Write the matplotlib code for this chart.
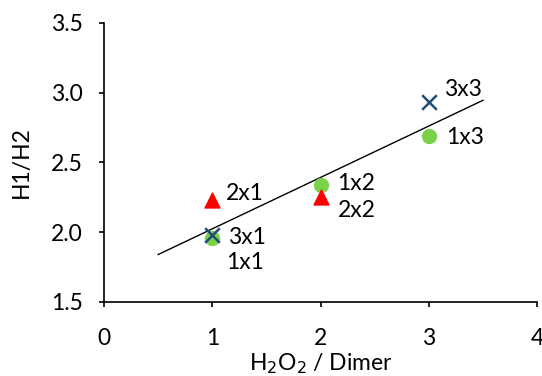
import numpy as np
import matplotlib.pyplot as plt

plt.rcParams["font.family"] = ["Lato", "DejaVu Sans"]

# H2O2 / dimer ratio and H1/H2 values, by series
green_x = [1, 2, 3]
green_y = [1.96, 2.34, 2.69]
green_lab = ["1x1", "1x2", "1x3"]

red_x = [1, 2]
red_y = [2.23, 2.25]
red_lab = ["2x1", "2x2"]

blue_x = [1, 3]
blue_y = [1.98, 2.93]
blue_lab = ["3x1", "3x3"]

# label offsets in pixels, per point
green_off = [(14, -25), (17, 1), (17, -2)]
red_off = [(14, 7), (17, -13)]
blue_off = [(16, -3), (15, 13)]

FS = 16.5

fig = plt.figure(figsize=(5.42, 3.76), dpi=100)
ax = fig.add_axes([0.192, 0.197, 0.799, 0.742])

# linear trend over all points
all_x = np.array(green_x + red_x + blue_x, dtype=float)
all_y = np.array(green_y + red_y + blue_y)
slope, icpt = np.polyfit(all_x, all_y, 1)
xs = np.array([0.5, 3.5])
ax.plot(xs, slope * xs + icpt, color="black", lw=1.0, zorder=1)

ax.scatter(green_x, green_y, s=100, color="#7BD24A", marker="o", zorder=2)
ax.scatter(red_x, red_y, s=115, color="#FF0000", marker="^", zorder=2)
ax.scatter(blue_x, blue_y, s=110, color="#1F4E79", marker="x", linewidths=1.8, zorder=3)

for xx, yy, labs, offs in [
    (green_x, green_y, green_lab, green_off),
    (red_x, red_y, red_lab, red_off),
    (blue_x, blue_y, blue_lab, blue_off),
]:
    for x, y, t, o in zip(xx, yy, labs, offs):
        ax.annotate(t, (x, y), xytext=o, textcoords="offset pixels",
                    ha="left", va="center", fontsize=FS)

ax.set_xlim(0, 4)
ax.set_ylim(1.5, 3.5)
ax.set_xticks([0, 1, 2, 3, 4])
ax.set_yticks([1.5, 2.0, 2.5, 3.0, 3.5])
ax.set_yticklabels(["1.5", "2.0", "2.5", "3.0", "3.5"])
ax.tick_params(labelsize=FS, length=3.5, width=1.2, color="black")
ax.tick_params(axis="x", pad=15)
ax.tick_params(axis="y", pad=12)
for s in ["top", "right"]:
    ax.spines[s].set_visible(False)
for s in ["left", "bottom"]:
    ax.spines[s].set_linewidth(1.2)

ax.set_xlabel(r"H$_2$O$_2$ / Dimer", fontsize=FS)
ax.set_ylabel("H1/H2", fontsize=FS)
ax.xaxis.set_label_coords(0.5, -0.178)
ax.yaxis.set_label_coords(-0.166, 0.5)

plt.savefig("out.png", dpi=100)
